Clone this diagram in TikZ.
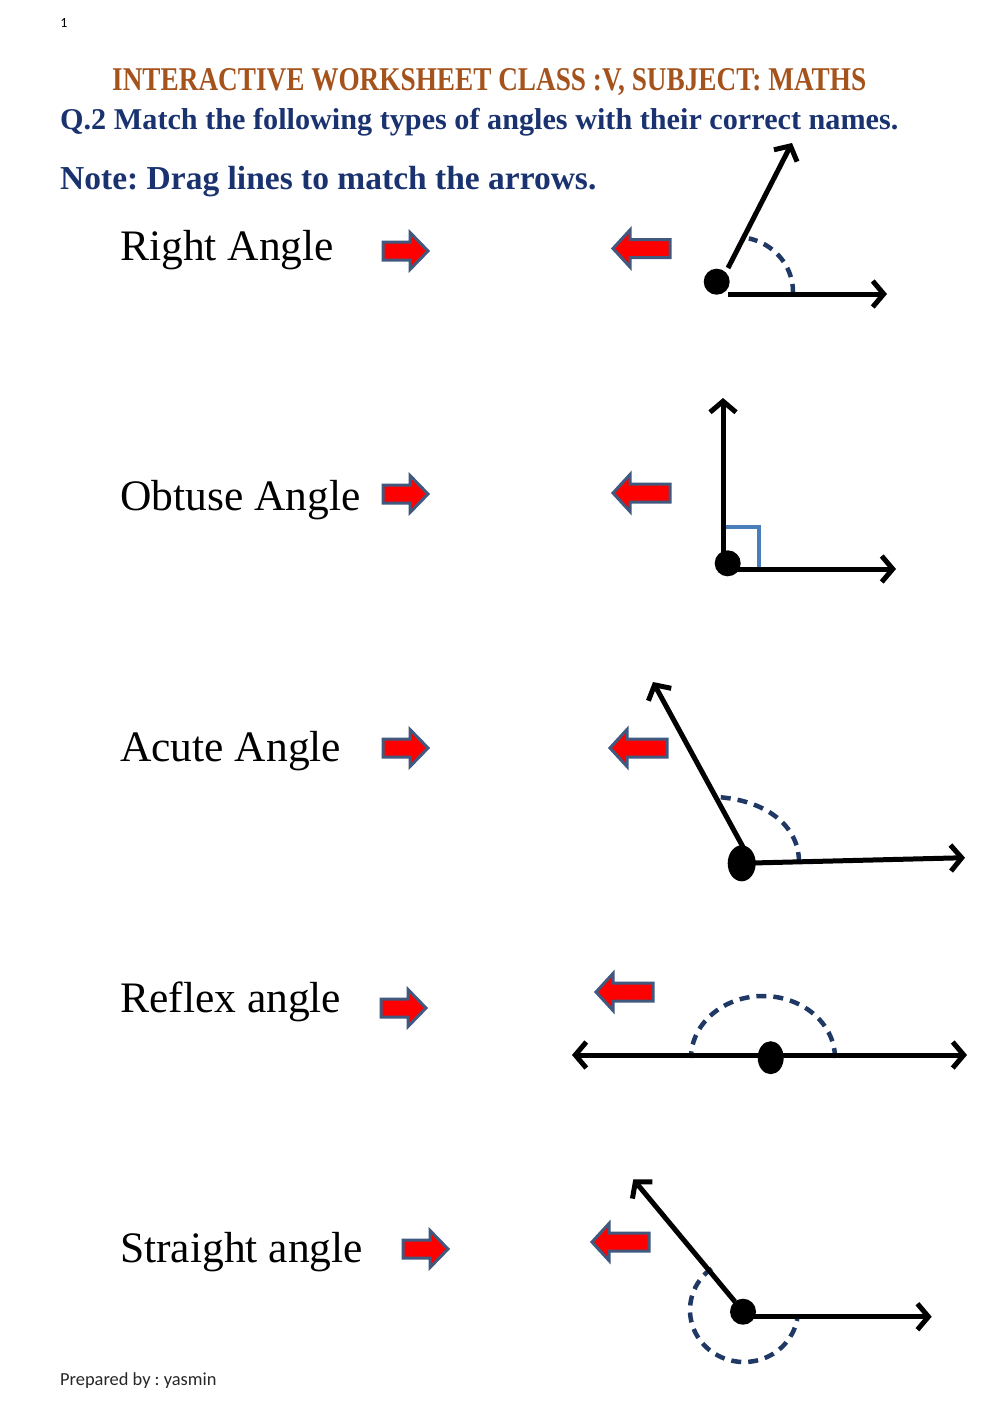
\documentclass[tikz,border=0pt]{standalone}
\usepackage{fontspec}
\usepackage{graphicx}
\setmainfont{Liberation Serif}
\newfontfamily\calib{Carlito}
\usetikzlibrary{arrows.meta}
\definecolor{titlebrown}{HTML}{A5531C}
\definecolor{qnavy}{HTML}{1A3370}
\definecolor{arcnavy}{HTML}{1F3864}
\definecolor{sqblue}{HTML}{4A7EBB}
\definecolor{arrowedge}{HTML}{41597F}
\tikzset{
  lbl/.style={inner sep=0pt, anchor=base west, font=\fontsize{43.5}{50}\selectfont},
  qtext/.style={inner sep=0pt, anchor=base west, text=qnavy},
  ray/.style={line width=5pt, -{Straight Barb[length=11pt,width=26pt]}},
  bothray/.style={line width=5pt, {Straight Barb[length=11pt,width=26pt]}-{Straight Barb[length=11pt,width=26pt]}},
  arcdash/.style={line width=4.5pt, arcnavy, dash pattern=on 10pt off 7pt},
  blockarrow/.style={fill=red, draw=arrowedge, line width=3pt, line join=miter},
  rarrow/.pic={\path[blockarrow] (0,-9) -- (27,-9) -- (27,-18.5) -- (45,0) -- (27,18.5) -- (27,9) -- (0,9) -- cycle;},
  larrow/.pic={\path[blockarrow] (0,0) -- (17,-18.5) -- (17,-9) -- (57,-9) -- (57,9) -- (17,9) -- (17,18.5) -- cycle;}
}
\begin{document}
\frenchspacing
\begin{tikzpicture}[x=1pt,y=-1pt]
\useasboundingbox (0,0) rectangle (1000,1413);
% page number
\node[inner sep=0pt, font=\calib\fontsize{14}{16}\selectfont] (pg) at (64,23) {1};
% title
\node[inner sep=0pt, anchor=base west, text=titlebrown] (title) at (112,90)
  {\resizebox{754pt}{22pt}{\bfseries INTERACTIVE WORKSHEET CLASS :V, SUBJECT: MATHS}};
\node[qtext, font=\bfseries\fontsize{30.2}{36}\selectfont] (q2) at (60,129) {Q.2 Match the following types of angles with their correct names.};
\node[qtext, font=\bfseries\fontsize{33.5}{40}\selectfont] (note) at (60,189) {Note: Drag lines to match the arrows.};
% labels
\node[lbl] (t1) at (120,260) {Right Angle};
\node[lbl] (t2) at (120,510) {Obtuse Angle};
\node[lbl] (t3) at (120,761) {Acute Angle};
\node[lbl] (t4) at (120,1012) {Reflex angle};
\node[lbl] (t5) at (120,1262) {Straight angle};
% red block arrows
\pic at (383,251) {rarrow};
\pic at (613,248.5) {larrow};
\pic at (383,494) {rarrow};
\pic at (613,493) {larrow};
\pic at (383,748) {rarrow};
\pic at (610,748) {larrow};
\pic at (381,1008) {rarrow};
\pic at (596,992) {larrow};
\pic at (403,1249) {rarrow};
\pic at (592,1242) {larrow};
% ---- figure 1
\coordinate (a1h0) at (728,294);
\coordinate (a1h1) at (887,294);
\coordinate (a1u0) at (728,268);
\coordinate (a1u1) at (792,143);
\draw[arcdash] plot[domain=-2:77, samples=40] ({736+57*cos(\x)},{292-55*sin(\x)});
\draw[ray] (a1h0) -- (a1h1);
\draw[ray] (a1u0) -- (a1u1);
\fill (716.7,281.7) circle (13);
% ---- figure 2
\draw[sqblue, line width=3.5pt] (724,527) -- (759,527) -- (759,568);
\draw[ray] (723,565) -- (723,398);
\draw[ray] (728,569) -- (896,569);
\fill (727.7,563.3) circle (13);
% ---- figure 3
\draw[arcdash] (799,862) .. controls (799,825) and (765,800) .. (717,797);
\draw[ray] (743,847) -- (653,682);
\draw[ray] (752,863) -- (965,857.7);
\fill (741.7,863.3) ellipse (14 and 18);
% ---- figure 4
\draw[arcdash] plot[domain=0:180, samples=60] ({763+72*cos(\x)},{1058-62*sin(\x)});
\draw[bothray] (572,1055) -- (967,1055);
\fill (770.7,1057.7) ellipse (13 and 16.5);
% ---- figure 5
\draw[arcdash] plot[domain=127:352, samples=60] ({744+54*cos(\x)},{1310-52*sin(\x)});
\draw[ray] (735,1301.7) -- (633.3,1179.3);
\draw[ray] (752,1316.7) -- (931.7,1316.7);
\fill (743,1311.7) circle (13);
% footer
\node[inner sep=0pt, anchor=base west, font=\calib\fontsize{18.4}{22}\selectfont, text=black!85] (prep) at (60,1385) {Prepared by : yasmin};
\end{tikzpicture}
\end{document}
